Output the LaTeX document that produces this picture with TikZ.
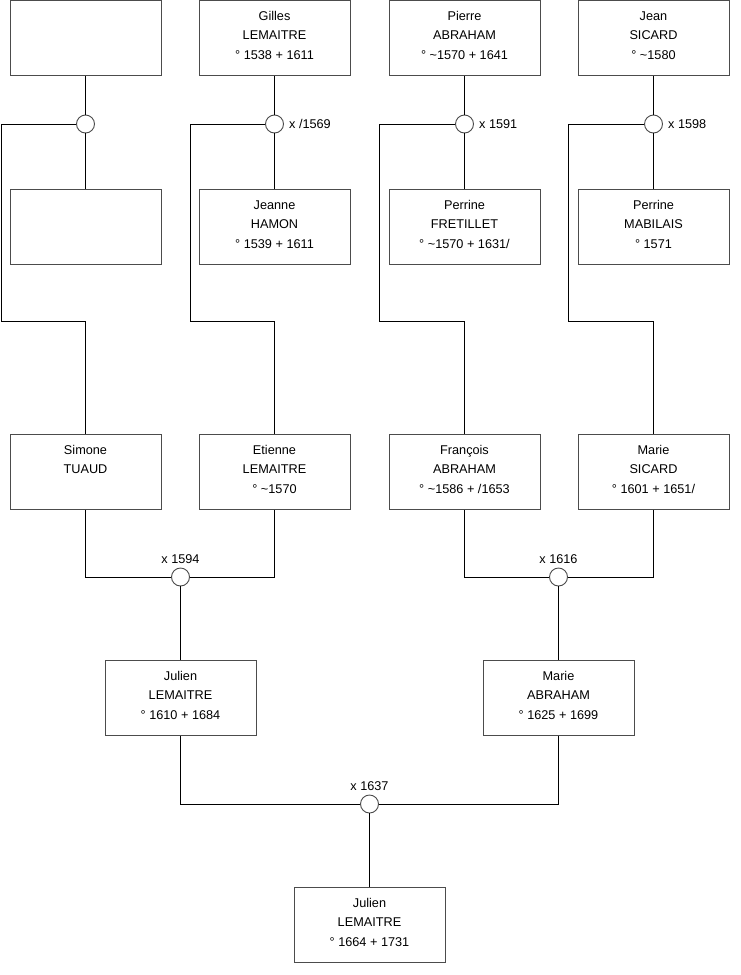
\documentclass[tikz,border=0pt]{standalone}
\usepackage{fontspec}
\setmainfont{Liberation Sans}
\newcommand{\fiche}[1]{\parbox[c][75pt][t]{150pt}{\centering\rule{0pt}{19.5pt}#1}}
\begin{document}
\begin{tikzpicture}[x=1pt,y=-1pt,
    personne/.style={draw=black!70, line width=0.9pt, fill=white, minimum width=151pt, minimum height=75.5pt, inner sep=0pt, font=\fontsize{12.7}{19.6}\selectfont},
    union/.style={circle, draw=black!70, fill=white, minimum size=18pt, inner sep=0pt, line width=0.9pt},
    date/.style={font=\fontsize{12.7}{15}\selectfont, inner sep=2pt},
    lien/.style={line width=0.9pt}]
    \useasboundingbox (0,0) rectangle (740,975);
    % generation 1
    \node[personne] (p1) at (85.5,38) {\fiche{}};
    \node[personne] (p2) at (274.5,38) {\fiche{Gilles\\LEMAITRE\\° 1538 + 1611}};
    \node[personne] (p3) at (464.5,38) {\fiche{Pierre\\ABRAHAM\\° \char`\~1570 + 1641}};
    \node[personne] (p4) at (653.5,38) {\fiche{Jean\\SICARD\\° \char`\~1580}};
    % generation 2
    \node[personne] (p5) at (85.5,227) {\fiche{}};
    \node[personne] (p6) at (274.5,227) {\fiche{Jeanne\\HAMON\\° 1539 + 1611}};
    \node[personne] (p7) at (464.5,227) {\fiche{Perrine\\FRETILLET\\° \char`\~1570 + 1631/}};
    \node[personne] (p8) at (653.5,227) {\fiche{Perrine\\MABILAIS\\° 1571}};
    % generation 3
    \node[personne] (p9) at (85.5,472) {\fiche{Simone\\TUAUD}};
    \node[personne] (p10) at (274.5,472) {\fiche{Etienne\\LEMAITRE\\° \char`\~1570}};
    \node[personne] (p11) at (464.5,472) {\fiche{François\\ABRAHAM\\° \char`\~1586 + /1653}};
    \node[personne] (p12) at (653.5,472) {\fiche{Marie\\SICARD\\° 1601 + 1651/}};
    % generation 4
    \node[personne] (p13) at (180.5,698) {\fiche{Julien\\LEMAITRE\\° 1610 + 1684}};
    \node[personne] (p14) at (558.5,698) {\fiche{Marie\\ABRAHAM\\° 1625 + 1699}};
    % generation 5
    \node[personne] (p15) at (369.5,925) {\fiche{Julien\\LEMAITRE\\° 1664 + 1731}};

    % unions
    \node[union] (u1) at (85.5,124) {};
    \node[union] (u2) at (274.5,124) {};
    \node[union] (u3) at (464.5,124) {};
    \node[union] (u4) at (653.5,124) {};
    \node[union] (u5) at (180.5,577) {};
    \node[union] (u6) at (558.5,577) {};
    \node[union] (u7) at (369.5,804) {};
    \node[date, anchor=west] (d2) at ([xshift=3pt]u2.east) {x /1569};
    \node[date, anchor=west] (d3) at ([xshift=3pt]u3.east) {x 1591};
    \node[date, anchor=west] (d4) at ([xshift=3pt]u4.east) {x 1598};
    \node[date, anchor=south] (d5) at ([yshift=2pt]u5.north) {x 1594};
    \node[date, anchor=south] (d6) at ([yshift=2pt]u6.north) {x 1616};
    \node[date, anchor=south] (d7) at ([yshift=2pt]u7.north) {x 1637};

    % liens
    \draw[lien] (p1) -- (u1) -- (p5);
    \draw[lien] (p2) -- (u2) -- (p6);
    \draw[lien] (p3) -- (u3) -- (p7);
    \draw[lien] (p4) -- (u4) -- (p8);
    \draw[lien] (u1.west) -| (1,321) -| (p9.north);
    \draw[lien] (u2.west) -| (190,321) -| (p10.north);
    \draw[lien] (u3.west) -| (379,321) -| (p11.north);
    \draw[lien] (u4.west) -| (568,321) -| (p12.north);
    \draw[lien] (p9.south) |- (u5.west);
    \draw[lien] (p10.south) |- (u5.east);
    \draw[lien] (p11.south) |- (u6.west);
    \draw[lien] (p12.south) |- (u6.east);
    \draw[lien] (u5) -- (p13);
    \draw[lien] (u6) -- (p14);
    \draw[lien] (p13.south) |- (u7.west);
    \draw[lien] (p14.south) |- (u7.east);
    \draw[lien] (u7) -- (p15);
\end{tikzpicture}
\end{document}
